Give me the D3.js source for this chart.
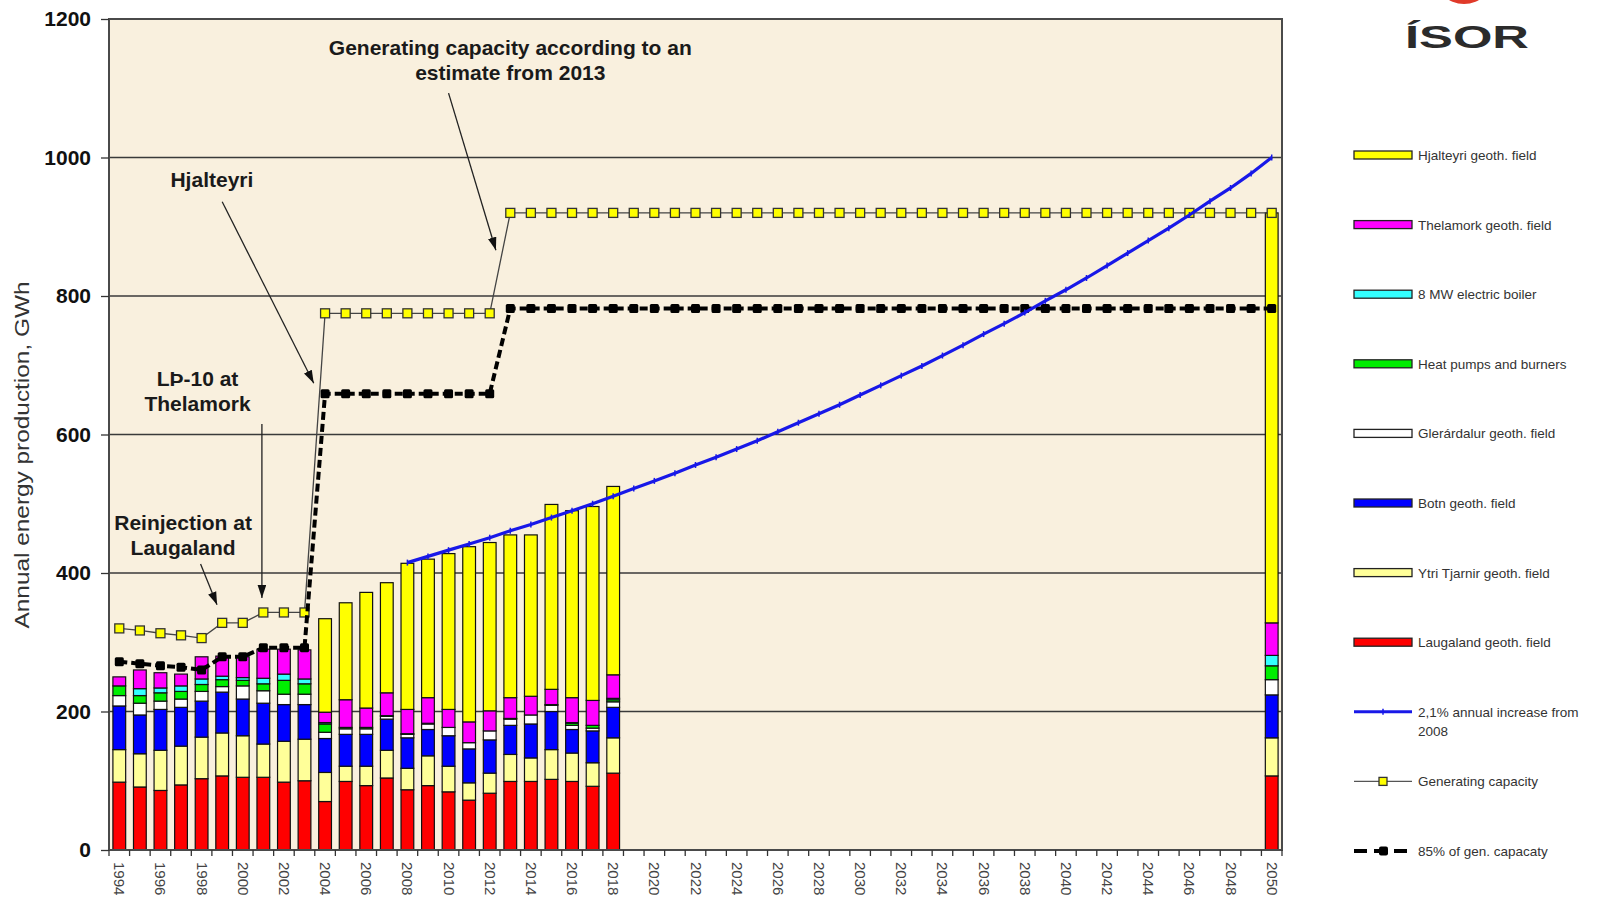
<!DOCTYPE html>
<html>
<head>
<meta charset="utf-8">
<title>Annual energy production</title>
<script src="https://d3js.org/d3.v7.min.js"></script>
<style>
  body { margin: 0; background: white; }
  text { font-family: "Liberation Sans", Arial, sans-serif; }
  .note { font-weight: bold; font-size: 21px; fill: #1a1a1a; text-anchor: middle; }
  .legend text { font-size: 13.5px; fill: #333; }
</style>
</head>
<body>
<script>
// categories on the x axis
const years = [1994,1995,1996,1997,1998,1999,2000,2001,2002,2003,2004,2005,2006,2007,2008,2009,2010,2011,
  2012,2013,2014,2015,2016,2017,2018,2019,2020,2021,2022,2023,2024,2025,2026,2027,2028,2029,2030,2031,2032,
  2033,2034,2035,2036,2037,2038,2039,2040,2041,2042,2043,2044,2045,2046,2047,2048,2049,2050];
const yTicks = [0,200,400,600,800,1000,1200];

// years that have a bar
const barYears = [1994,1995,1996,1997,1998,1999,2000,2001,2002,2003,2004,2005,2006,2007,2008,2009,2010,
  2011,2012,2013,2014,2015,2016,2017,2018,2050];

// stacked production, GWh (bottom to top)
const laugaland   = [98,91,86,94,103,107,105,105,98,100, 70,99,93,104,87,93,84,72,82,99,99,102,99,92,111, 107];
const ytriTjarnir = [47,48,58,56,60,62,60,48,59,60, 42,22,28,40,31,43,37,25,29,39,34,43,41,34,51, 55];
const botn        = [63,56,59,56,52,59,53,59,53,50, 49,46,46,45,44,38,44,49,48,42,49,55,34,46,44, 62];
const glerardalur = [15,17,12,12,14,8,19,18,15,15, 9,8,8,4,5,8,12,9,13,9,13,9,6,4,8, 22];
const heatPumps   = [14,11,12,11,10,10,8,10,20,15, 12,2,2,1,1,1,0,0,0,1,0,1,3,4,3, 20];
const boiler      = [0,10,7,8,8,5,4,8,9,7, 2,0,0,0,0,0,0,0,0,0,0,0,1,0,2, 15];
const thelamork   = [13,27,22,17,32,29,30,42,36,42, 15,40,28,33,35,37,26,30,29,30,27,22,36,36,34, 47];
const hjalteyri   = [0,0,0,0,0,0,0,0,0,0, 135,140,167,159,211,200,225,253,243,235,233,267,270,280,272, 592];

// generating capacity, one value per year 1994-2050
const genCapacity = [320,317,313,310,306,328,328,343,343,343,
  775,775,775,775,775,775,775,775,775,
  920,920,920,920,920,920,920,920,920,920,920,920,920,920,920,920,920,920,920,
  920,920,920,920,920,920,920,920,920,920,920,920,920,920,920,920,920,920,920];
const gen85 = [272,269,266,264,260,279,279,292,292,292,
  659,659,659,659,659,659,659,659,659,
  782,782,782,782,782,782,782,782,782,782,782,782,782,782,782,782,782,782,782,
  782,782,782,782,782,782,782,782,782,782,782,782,782,782,782,782,782,782,782];

// 2,1% annual increase from 2008 (2008-2050)
const growthYears = years.slice(14);
const growth = [415,424,433,442,451,461,470,480,490,500,511,522,533,544,556,567,579,591,604,617,630,643,
  657,671,685,699,714,729,745,760,776,793,809,826,844,862,880,898,917,937,956,977,1000];

const seriesNames = ['Laugaland geoth. field','Ytri Tjarnir geoth. field','Botn geoth. field',
  'Glerárdalur geoth. field','Heat pumps and burners','8 MW electric boiler','Thelamork geoth. field',
  'Hjalteyri geoth. field'];
const seriesColors = ['#ff0000','#ffff99','#0000ff','#ffffff','#00ee00','#33ffff','#ff00ff','#ffff00'];
const seriesData = [laugaland, ytriTjarnir, botn, glerardalur, heatPumps, boiler, thelamork, hjalteyri];

const svg = d3.select('body').append('svg').attr('width', 1623).attr('height', 910);

const x = d3.scaleBand().domain(years).range([109, 1282]).paddingInner(0.38).paddingOuter(0.19);
const y = d3.scaleLinear().domain([0, 1200]).range([850, 19]);
const xc = d => x(d) + x.bandwidth() / 2;
const xl = d3.scaleLinear().domain([1994, 2050]).range([xc(1994), xc(2050)]);

// plot background
svg.append('rect').attr('x', 109).attr('y', 19).attr('width', 1173).attr('height', 831).attr('fill', '#f9f0de');

// gridlines
svg.append('g').selectAll('line').data(yTicks.slice(1, -1)).join('line')
  .attr('x1', 109).attr('x2', 1282).attr('y1', d => y(d)).attr('y2', d => y(d))
  .attr('stroke', '#3a3a3a').attr('stroke-width', 1.3);

// stacked bars
const rows = barYears.map((yr, i) => {
  const r = { year: yr };
  seriesNames.forEach((n, k) => r[n] = seriesData[k][i]);
  return r;
});
const stacked = d3.stack().keys(seriesNames)(rows);
svg.append('g').selectAll('g').data(stacked).join('g')
  .attr('fill', (d, i) => seriesColors[i])
  .selectAll('rect').data(d => d.filter(p => p[1] > p[0])).join('rect')
  .attr('x', d => x(d.data.year)).attr('width', x.bandwidth())
  .attr('y', d => y(d[1])).attr('height', d => y(d[0]) - y(d[1]))
  .attr('stroke', '#111').attr('stroke-width', 1.2);

// generating capacity
const capPts = years.map((yr, i) => ({ year: yr, v: genCapacity[i] }));
const line = d3.line().x(d => xc(d.year)).y(d => y(d.v));
svg.append('path').attr('d', line(capPts)).attr('fill', 'none').attr('stroke', '#444').attr('stroke-width', 1.3);
svg.append('g').selectAll('rect').data(capPts).join('rect')
  .attr('x', d => xc(d.year) - 4.5).attr('y', d => y(d.v) - 4.5).attr('width', 9).attr('height', 9)
  .attr('fill', '#ffff00').attr('stroke', '#333').attr('stroke-width', 1.3);

// 85% of generating capacity
const p85 = years.map((yr, i) => ({ year: yr, v: gen85[i] }));
svg.append('path').attr('d', line(p85)).attr('fill', 'none').attr('stroke', '#000')
  .attr('stroke-width', 4).attr('stroke-dasharray', '8,4');
svg.append('g').selectAll('rect').data(p85).join('rect')
  .attr('x', d => xc(d.year) - 4.5).attr('y', d => y(d.v) - 4.5).attr('width', 9).attr('height', 9)
  .attr('rx', 1.5).attr('fill', '#000');

// 2,1% increase line
const gPts = growthYears.map((yr, i) => ({ year: yr, v: growth[i] }));
svg.append('path').attr('d', line(gPts)).attr('fill', 'none').attr('stroke', '#1818e8').attr('stroke-width', 3.2);
svg.append('g').selectAll('line').data(gPts).join('line')
  .attr('x1', d => xc(d.year)).attr('x2', d => xc(d.year))
  .attr('y1', d => y(d.v) - 3).attr('y2', d => y(d.v) + 3)
  .attr('stroke', '#1818e8').attr('stroke-width', 1.5);

// annotations
svg.append('defs').append('marker').attr('id', 'arrow')
  .attr('viewBox', '0 0 12 8').attr('refX', 12).attr('refY', 4)
  .attr('markerWidth', 13).attr('markerHeight', 9).attr('markerUnits', 'userSpaceOnUse')
  .attr('orient', 'auto')
  .append('path').attr('d', 'M0,0L12,4L0,8Z').attr('fill', '#111');

const notes = [
  { lines: ['Generating capacity according to an', 'estimate from 2013'], at: [2013, 1148], arrow: [2010.0, 1093, 2012.3, 866] },
  { lines: ['Hjalteyri'], at: [1998.5, 957], arrow: [1999.0, 936, 2003.45, 674] },
  { lines: ['LÞ-10 at', 'Thelamork'], at: [1997.8, 670], arrow: [2000.93, 615, 2000.93, 364] },
  { lines: ['Reinjection at', 'Laugaland'], at: [1997.1, 462], arrow: [1997.95, 413, 1998.75, 354] }
];
const ng = svg.append('g');
notes.forEach(n => {
  const t = ng.append('text').attr('class', 'note');
  n.lines.forEach((s, i) => t.append('tspan').attr('x', xl(n.at[0])).attr('y', y(n.at[1]) + i * 25).text(s));
  ng.append('line').attr('x1', xl(n.arrow[0])).attr('y1', y(n.arrow[1]))
    .attr('x2', xl(n.arrow[2])).attr('y2', y(n.arrow[3]))
    .attr('stroke', '#222').attr('stroke-width', 1.3).attr('marker-end', 'url(#arrow)');
});

// frame
svg.append('rect').attr('x', 109).attr('y', 19).attr('width', 1173).attr('height', 831)
  .attr('fill', 'none').attr('stroke', '#4a4a4a').attr('stroke-width', 2);

// y axis
const ya = svg.append('g').attr('transform', 'translate(109,0)')
  .call(d3.axisLeft(y).tickValues(yTicks).tickFormat(d3.format('d')).tickSize(8).tickPadding(10));
ya.select('.domain').remove();
ya.selectAll('line').attr('stroke', '#333').attr('stroke-width', 1.3);
ya.selectAll('text').attr('font-size', 21).attr('font-weight', 'bold').attr('fill', '#111')
  .attr('font-family', '"Liberation Sans", Arial, sans-serif');

svg.append('text').attr('transform', 'translate(29,455) rotate(-90)')
  .attr('text-anchor', 'middle').attr('font-size', 20).attr('fill', '#333')
  .attr('textLength', 347).attr('lengthAdjust', 'spacingAndGlyphs')
  .text('Annual energy production,  GWh');

// x axis ticks at category boundaries, labels every second year
const xg = svg.append('g');
xg.selectAll('line').data(years.concat(['end'])).join('line')
  .attr('x1', (d, i) => 109 + i * x.step()).attr('x2', (d, i) => 109 + i * x.step())
  .attr('y1', 850).attr('y2', 856).attr('stroke', '#333').attr('stroke-width', 1.3);
xg.selectAll('text').data(years.filter(d => d % 2 === 0)).join('text')
  .attr('transform', d => `translate(${xc(d) - 5},862) rotate(90)`)
  .attr('font-size', 15).attr('fill', '#444').text(d => d);

// legend
const legendNames = seriesNames.slice().reverse().concat(['2,1% annual increase from', 'Generating capacity', '85% of gen. capacaty']);
const legendColors = seriesColors.slice().reverse();
const lg = svg.append('g').attr('class', 'legend');
legendNames.forEach((name, i) => {
  const cy = 155 + i * 69.6;
  const g = lg.append('g').attr('transform', `translate(1354,${cy})`);
  if (i < 8) {
    g.append('rect').attr('x', 0).attr('y', -4).attr('width', 58).attr('height', 8)
      .attr('fill', legendColors[i]).attr('stroke', '#222').attr('stroke-width', 1.3);
  } else if (i === 8) {
    g.append('line').attr('x1', 0).attr('x2', 58).attr('stroke', '#1818e8').attr('stroke-width', 3);
    g.append('line').attr('x1', 29).attr('x2', 29).attr('y1', -3).attr('y2', 3).attr('stroke', '#1818e8').attr('stroke-width', 1.5);
  } else if (i === 9) {
    g.append('line').attr('x1', 0).attr('x2', 58).attr('stroke', '#555').attr('stroke-width', 1.2);
    g.append('rect').attr('x', 25).attr('y', -4).attr('width', 8).attr('height', 8)
      .attr('fill', '#ffff00').attr('stroke', '#333').attr('stroke-width', 1.3);
  } else {
    g.append('line').attr('x1', 0).attr('x2', 58).attr('stroke', '#000').attr('stroke-width', 4).attr('stroke-dasharray', '13,7');
    g.append('rect').attr('x', 25).attr('y', -4.5).attr('width', 9).attr('height', 9).attr('rx', 2).attr('fill', '#000');
  }
  g.append('text').attr('x', 64).attr('y', 5).text(name);
  if (i === 8) g.append('text').attr('x', 64).attr('y', 24).text('2008');
});

// logo
svg.append('circle').attr('cx', 1464).attr('cy', -26).attr('r', 30).attr('fill', '#e03a2a');
svg.append('text').attr('x', 1405).attr('y', 48).attr('font-size', 31).attr('font-weight', 'bold')
  .attr('textLength', 124).attr('lengthAdjust', 'spacingAndGlyphs')
  .attr('fill', '#2b2b2b').text('ÍSOR');
</script>
</body>
</html>
